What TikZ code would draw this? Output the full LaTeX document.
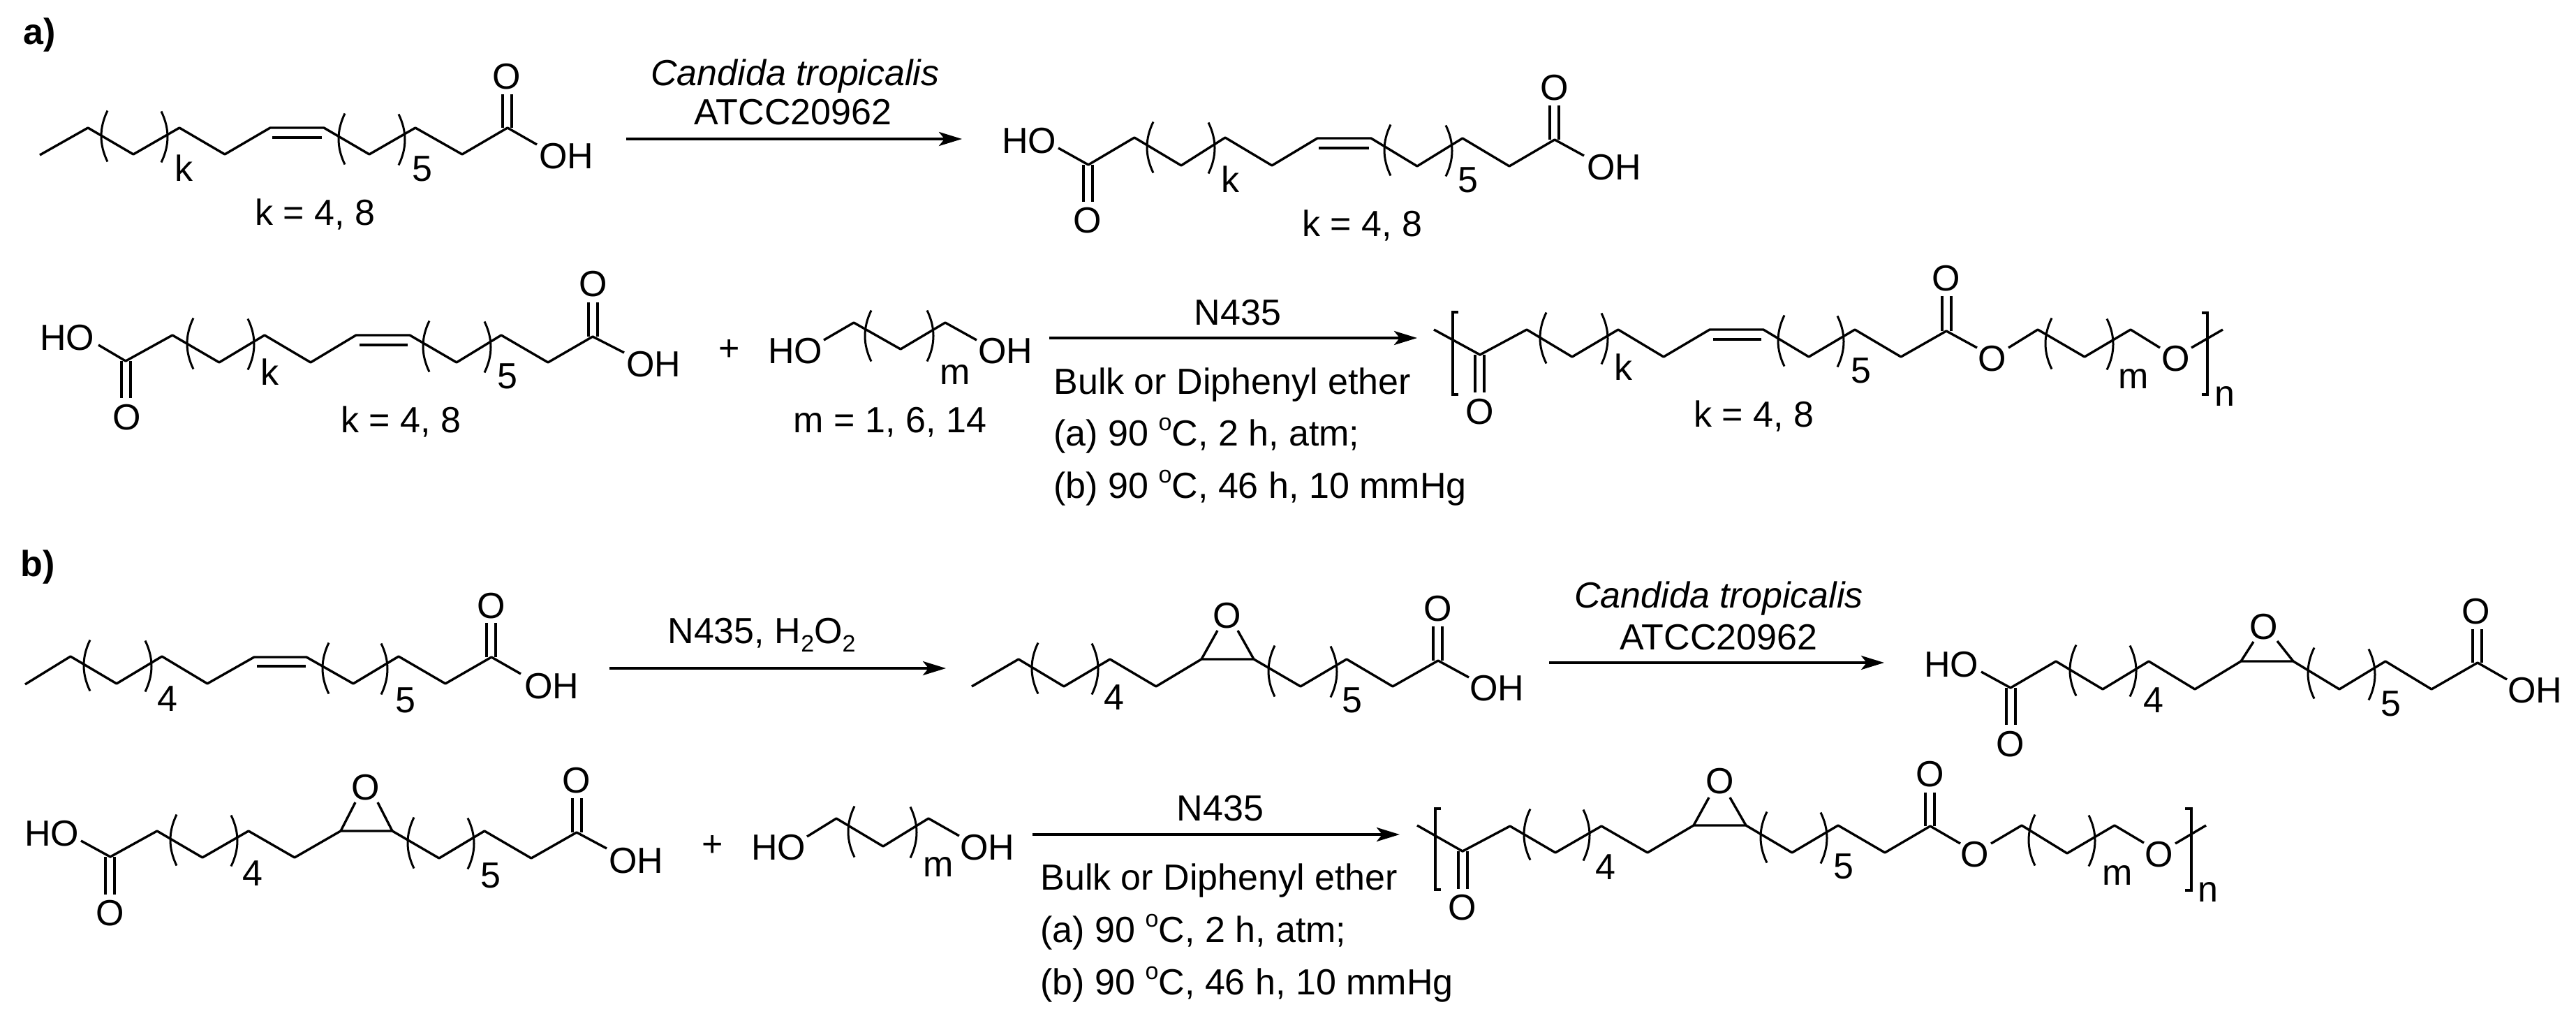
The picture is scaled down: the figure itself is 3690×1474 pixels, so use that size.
\documentclass[tikz,border=0pt]{standalone}
\usepackage{fontspec}
\setmainfont{Liberation Sans}
\usetikzlibrary{arrows.meta}
\newcommand{\lpa}[2]{\draw[paren] (#1+9,#2-36.5) .. controls (#1-3,#2-12) and (#1-3,#2+12) .. (#1+9,#2+36.5);}
\newcommand{\rpa}[2]{\draw[paren] (#1-9,#2-36.5) .. controls (#1+3,#2-12) and (#1+3,#2+12) .. (#1-9,#2+36.5);}
\newcommand{\lb}[4]{\node[lbl] (#1) at (#2,#3) {#4};}
\newcommand{\lbw}[4]{\node[lblw] (#1) at (#2,#3) {#4};}
\newcommand{\sbs}{\raisebox{-0.22em}{\fontsize{17}{17}\selectfont 2}}
\newcommand{\sps}{\raisebox{0.42em}{\fontsize{17}{17}\selectfont o}}
\tikzset{
  x=0.5pt,y=-0.5pt,
  bond/.style={line width=1.7pt,line join=round,black},
  paren/.style={line width=1.5pt,black},
  brk/.style={line width=1.7pt,black},
  rxn/.style={line width=2pt,black,-{Stealth[length=16.5pt,width=10pt,inset=4pt]}},
  lbl/.style={font=\fontsize{26}{30}\selectfont,inner sep=0pt,text height=18.6pt,text depth=0pt,anchor=center},
  lblw/.style={font=\fontsize{26}{30}\selectfont,inner sep=0pt,anchor=base west}
}
\begin{document}
\begin{tikzpicture}
\fill[white,use as bounding box] (0,0) rectangle (3690,1474);

% ---------- a) ----------
\node[lbl,font=\fontsize{26}{30}\selectfont\bfseries] (la) at (57,45) {a)};

% oleic-type acid
\draw[bond] (57,222)--(126,183)--(191,221)--(257,183)--(322,221)--(387,183)--(464,183)--(529,221)--(595,183)--(662,221)--(727,183)--(769,207);
\draw[bond] (390,197)--(461,197);
\draw[bond] (720,183)--(720,135) (733,183)--(733,135);
\lpa{145}{195}\rpa{240}{196}\lpa{485}{199}\rpa{580}{200}
\lb{a1o}{726}{109}{O}\lb{a1oh}{811}{223}{OH}\lb{a1k}{263}{241}{k}\lb{a1f}{605}{241}{5}\lb{a1t}{451}{304}{k = 4, 8}

% arrow 1
\coordinate (a1s) at (897,199);\coordinate (a1e) at (1378,199);
\draw[rxn] (a1s)--(a1e);
\lb{a1c}{1139}{104}{\itshape Candida tropicalis}\lb{a1d}{1136}{160}{ATCC20962}

% diacid
\draw[bond] (1516,212)--(1559,236)--(1625,197)--(1692,237)--(1755,197)--(1822,237)--(1887,198)--(1964,198)--(2030,238)--(2095,198)--(2162,238)--(2227,200)--(2269,223);
\draw[bond] (1889,212)--(1961,212);
\draw[bond] (1552,236)--(1552,289) (1565,236)--(1565,289);
\draw[bond] (2220,200)--(2220,151) (2233,200)--(2233,151);
\lpa{1643}{211}\rpa{1740}{212}\lpa{1983}{215}\rpa{2080}{216}
\lb{a2ho}{1474}{201}{HO}\lb{a2ob}{1558}{315}{O}\lb{a2ot}{2227}{125}{O}\lb{a2oh}{2312}{239}{OH}
\lb{a2k}{1762}{257}{k}\lb{a2f}{2103}{257}{5}\lb{a2t}{1951}{320}{k = 4, 8}

% diacid, second row
\draw[bond] (141,494)--(180,517)--(247,480)--(314,519)--(379,480)--(445,519)--(510,480)--(587,480)--(654,519)--(718,480)--(785,519)--(849,482)--(894,505);
\draw[bond] (515,494)--(584,494);
\draw[bond] (174,517)--(174,570) (187,517)--(187,570);
\draw[bond] (843,482)--(843,433) (856,482)--(856,433);
\lpa{268}{492}\rpa{364}{493}\lpa{606}{496}\rpa{703}{497}
\lb{a3ho}{96}{483}{HO}\lb{a3ob}{182}{597}{O}\lb{a3ot}{850}{406}{O}\lb{a3oh}{936}{521}{OH}
\lb{a3k}{386}{533}{k}\lb{a3f}{727}{538}{5}\lb{a3t}{574}{601}{k = 4, 8}
\lb{a3p}{1045}{498}{+}

% diol
\draw[bond] (1180,487)--(1223,462)--(1290,500)--(1354,462)--(1399,487);
\lpa{1239}{481}\rpa{1337}{481}
\lb{a4ho}{1139}{502}{HO}\lb{a4oh}{1440}{502}{OH}\lb{a4m}{1368}{532}{m}\lb{a4t}{1275}{601}{m = 1, 6, 14}

% arrow 2
\coordinate (a2s) at (1503,484);\coordinate (a2e) at (2030,484);
\draw[rxn] (a2s)--(a2e);
\lb{a5n}{1773}{447}{N435}
\lbw{a5a}{1509}{564}{Bulk or Diphenyl ether}
\lbw{a5b}{1509}{638}{(a) 90 \sps C, 2 h, atm;}
\lbw{a5c}{1509}{713}{(b) 90 \sps C, 46 h, 10 mmHg}

% polymer a
\draw[bond] (2054,472)--(2120,508)--(2187,472)--(2252,511)--(2318,472)--(2383,511)--(2449,472)--(2526,472)--(2591,511)--(2657,472)--(2723,511)--(2788,474)--(2832,498);
\draw[bond] (2877,498)--(2919,472)--(2986,511)--(3052,472)--(3094,498);
\draw[bond] (3139,498)--(3184,472);
\draw[bond] (2454,486)--(2523,486);
\draw[bond] (2113,508)--(2113,562) (2126,508)--(2126,562);
\draw[bond] (2782,474)--(2782,424) (2795,474)--(2795,424);
\draw[brk] (2089,447)--(2081,447)--(2081,565)--(2089,565);
\draw[brk] (3154,448)--(3162,448)--(3162,565)--(3154,565);
\lpa{2206}{484}\rpa{2303}{485}\lpa{2547}{488}\rpa{2641}{489}\lpa{2930}{492}\rpa{3027}{493}
\lb{a6ob}{2120}{589}{O}\lb{a6ot}{2788}{398}{O}\lb{a6oa}{2854}{513}{O}\lb{a6oc}{3117}{513}{O}
\lb{a6k}{2325}{526}{k}\lb{a6f}{2666}{530}{5}\lb{a6m}{3056}{538}{m}\lb{a6n}{3187}{563}{n}\lb{a6t}{2512}{593}{k = 4, 8}

% ---------- b) ----------
\node[lbl,font=\fontsize{26}{30}\selectfont\bfseries] (lbb) at (54,807) {b)};

% starting acid
\draw[bond] (36,980)--(101,940)--(167,979)--(232,940)--(297,979)--(364,941)--(439,941)--(506,979)--(571,940)--(638,979)--(704,941)--(746,965);
\draw[bond] (368,954)--(438,954);
\draw[bond] (697,941)--(697,892) (710,941)--(710,892);
\lpa{120}{953}\rpa{217}{954}\lpa{462}{957}\rpa{555}{958}
\lb{b1o}{704}{867}{O}\lb{b1oh}{790}{982}{OH}\lb{b1g}{240}{1000}{4}\lb{b1f}{581}{1002}{5}

% arrow 3
\coordinate (b1s) at (873,957);\coordinate (b1e) at (1355,957);
\draw[rxn] (b1s)--(b1e);
\lb{b1r}{1091}{903}{N435, H\sbs O\sbs}

% epoxy acid
\draw[bond] (1392,983)--(1459,944)--(1524,983)--(1590,944)--(1656,983)--(1721,944)--(1796,944)--(1863,983)--(1929,944)--(1995,983)--(2060,946)--(2104,970);
\draw[bond] (1721,944)--(1744,903) (1796,944)--(1773,903);
\draw[bond] (2053,946)--(2053,897) (2066,946)--(2066,897);
\lpa{1478}{957}\rpa{1573}{958}\lpa{1817}{961}\rpa{1915}{962}
\lb{b2e}{1758}{881}{O}\lb{b2o}{2060}{871}{O}\lb{b2oh}{2144}{985}{OH}\lb{b2g}{1596}{998}{4}\lb{b2f}{1937}{1002}{5}

% arrow 4
\coordinate (b2s) at (2219,949);\coordinate (b2e) at (2699,949);
\draw[rxn] (b2s)--(b2e);
\lb{b2c}{2462}{852}{\itshape Candida tropicalis}\lb{b2d}{2462}{912}{ATCC20962}

% epoxy diacid
\draw[bond] (2838,962)--(2880,985)--(2945,947)--(3012,987)--(3078,947)--(3144,987)--(3210,947)--(3285,947)--(3351,987)--(3417,947)--(3483,987)--(3549,949)--(3591,973);
\draw[bond] (3210,947)--(3228,919) (3285,947)--(3262,918);
\draw[bond] (2874,985)--(2874,1038) (2887,985)--(2887,1038);
\draw[bond] (3542,949)--(3542,901) (3555,949)--(3555,901);
\lpa{2965}{960}\rpa{3060}{961}\lpa{3306}{964}\rpa{3402}{966}
\lb{b3ho}{2795}{951}{HO}\lb{b3e}{3243}{897}{O}\lb{b3ob}{2880}{1065}{O}\lb{b3ot}{3547}{875}{O}\lb{b3oh}{3631}{988}{OH}
\lb{b3g}{3085}{1002}{4}\lb{b3f}{3425}{1007}{5}

% epoxy diacid, second row
\draw[bond] (116,1204)--(158,1227)--(225,1190)--(290,1228)--(356,1190)--(422,1228)--(488,1190)--(562,1190)--(629,1229)--(694,1190)--(761,1229)--(826,1192)--(869,1215);
\draw[bond] (488,1190)--(509,1149) (562,1190)--(541,1149);
\draw[bond] (151,1227)--(151,1281) (164,1227)--(164,1281);
\draw[bond] (820,1192)--(820,1143) (833,1192)--(833,1143);
\lpa{244}{1203}\rpa{340}{1204}\lpa{584}{1207}\rpa{679}{1208}
\lb{b4ho}{74}{1193}{HO}\lb{b4e}{524}{1127}{O}\lb{b4ob}{158}{1307}{O}\lb{b4ot}{826}{1117}{O}\lb{b4oh}{911}{1232}{OH}
\lb{b4g}{362}{1250}{4}\lb{b4f}{703}{1253}{5}
\lb{b4p}{1021}{1208}{+}

% diol
\draw[bond] (1156,1198)--(1198,1172)--(1265,1212)--(1330,1172)--(1374,1197);
\lpa{1215}{1191}\rpa{1313}{1192}
\lb{b5ho}{1115}{1213}{HO}\lb{b5oh}{1414}{1213}{OH}\lb{b5m}{1344}{1237}{m}

% arrow 5
\coordinate (b3s) at (1479,1195);\coordinate (b3e) at (2005,1195);
\draw[rxn] (b3s)--(b3e);
\lb{b6n}{1748}{1157}{N435}
\lbw{b6a}{1490}{1274}{Bulk or Diphenyl ether}
\lbw{b6b}{1490}{1349}{(a) 90 \sps C, 2 h, atm;}
\lbw{b6c}{1490}{1424}{(b) 90 \sps C, 46 h, 10 mmHg}

% polymer b
\draw[bond] (2030,1182)--(2095,1219)--(2163,1183)--(2228,1221)--(2294,1183)--(2360,1221)--(2426,1182)--(2501,1182)--(2567,1221)--(2633,1182)--(2700,1221)--(2765,1183)--(2808,1208);
\draw[bond] (2852,1208)--(2896,1182)--(2961,1222)--(3029,1182)--(3071,1207);
\draw[bond] (3116,1208)--(3160,1182);
\draw[bond] (2426,1182)--(2448,1142) (2501,1182)--(2478,1142);
\draw[bond] (2089,1219)--(2089,1273) (2102,1219)--(2102,1273);
\draw[bond] (2758,1183)--(2758,1135) (2771,1183)--(2771,1135);
\draw[brk] (2064,1158)--(2056,1158)--(2056,1274)--(2064,1274);
\draw[brk] (3130,1158)--(3139,1158)--(3139,1275)--(3130,1275);
\lpa{2183}{1195}\rpa{2277}{1196}\lpa{2522}{1199}\rpa{2617}{1200}\lpa{2906}{1203}\rpa{3001}{1204}
\lb{b7ob}{2095}{1299}{O}\lb{b7e}{2464}{1118}{O}\lb{b7ot}{2765}{1108}{O}\lb{b7oa}{2829}{1223}{O}\lb{b7oc}{3093}{1223}{O}
\lb{b7g}{2300}{1241}{4}\lb{b7f}{2641}{1240}{5}\lb{b7m}{3033}{1249}{m}\lb{b7n}{3163}{1273}{n}
\end{tikzpicture}
\end{document}
